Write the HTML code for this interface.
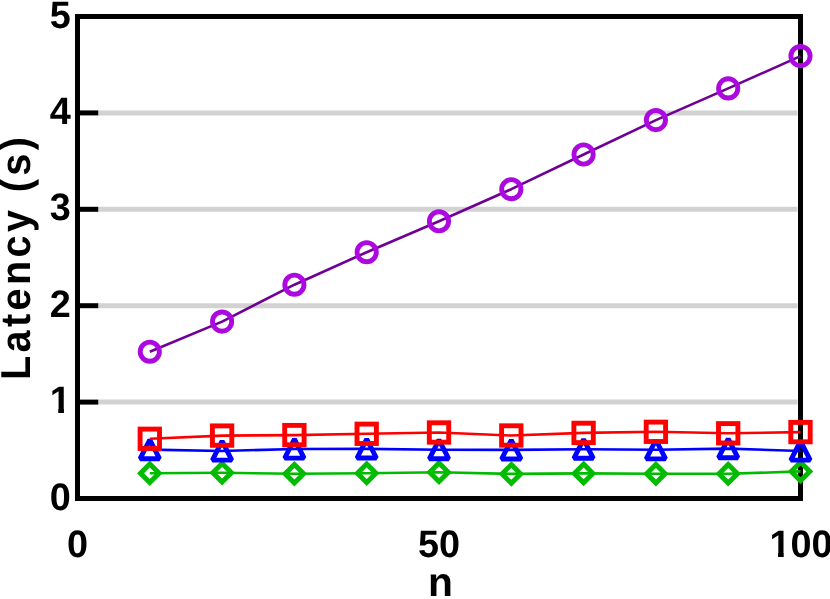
<!DOCTYPE html>
<html><head><meta charset="utf-8"><title>Latency chart</title>
<style>
html,body{margin:0;padding:0;background:#fff;}
body{width:830px;height:599px;overflow:hidden;}
svg{display:block;will-change:transform;}
text{font-family:"Liberation Sans",sans-serif;font-weight:bold;fill:#000;text-rendering:geometricPrecision;}
</style></head><body>
<svg width="830" height="599" viewBox="0 0 830 599">
<rect x="0" y="0" width="830" height="599" fill="#ffffff"/>
<line x1="98" y1="402.10" x2="797.5" y2="402.10" stroke="#d2d2d2" stroke-width="5"/>
<line x1="98" y1="305.70" x2="797.5" y2="305.70" stroke="#d2d2d2" stroke-width="5"/>
<line x1="98" y1="209.30" x2="797.5" y2="209.30" stroke="#d2d2d2" stroke-width="5"/>
<line x1="98" y1="112.90" x2="797.5" y2="112.90" stroke="#d2d2d2" stroke-width="5"/>
<rect x="77.5" y="16.5" width="723.0" height="482.0" fill="none" stroke="#000" stroke-width="5" stroke-linejoin="miter"/>
<line x1="77.5" y1="402.10" x2="98.2" y2="402.10" stroke="#000" stroke-width="5"/>
<line x1="77.5" y1="305.70" x2="98.2" y2="305.70" stroke="#000" stroke-width="5"/>
<line x1="77.5" y1="209.30" x2="98.2" y2="209.30" stroke="#000" stroke-width="5"/>
<line x1="77.5" y1="112.90" x2="98.2" y2="112.90" stroke="#000" stroke-width="5"/>
<polyline points="149.80,351.70 222.10,321.60 294.40,284.70 366.70,252.20 439.00,221.30 511.30,189.20 583.60,154.50 655.90,120.10 728.20,88.40 800.50,56.10" fill="none" stroke="#6e0096" stroke-width="2.6" stroke-linejoin="round"/>
<circle cx="149.80" cy="351.70" r="9.6" fill="none" stroke="#ac08e0" stroke-width="4.9"/>
<circle cx="222.10" cy="321.60" r="9.6" fill="none" stroke="#ac08e0" stroke-width="4.9"/>
<circle cx="294.40" cy="284.70" r="9.6" fill="none" stroke="#ac08e0" stroke-width="4.9"/>
<circle cx="366.70" cy="252.20" r="9.6" fill="none" stroke="#ac08e0" stroke-width="4.9"/>
<circle cx="439.00" cy="221.30" r="9.6" fill="none" stroke="#ac08e0" stroke-width="4.9"/>
<circle cx="511.30" cy="189.20" r="9.6" fill="none" stroke="#ac08e0" stroke-width="4.9"/>
<circle cx="583.60" cy="154.50" r="9.6" fill="none" stroke="#ac08e0" stroke-width="4.9"/>
<circle cx="655.90" cy="120.10" r="9.6" fill="none" stroke="#ac08e0" stroke-width="4.9"/>
<circle cx="728.20" cy="88.40" r="9.6" fill="none" stroke="#ac08e0" stroke-width="4.9"/>
<circle cx="800.50" cy="56.10" r="9.6" fill="none" stroke="#ac08e0" stroke-width="4.9"/>
<polyline points="149.80,473.30 222.10,472.80 294.40,473.80 366.70,473.20 439.00,472.20 511.30,473.90 583.60,473.40 655.90,473.80 728.20,473.80 800.50,471.40" fill="none" stroke="#00bb00" stroke-width="2.6" stroke-linejoin="round"/>
<path d="M149.80 464.00 L159.10 473.30 L149.80 482.60 L140.50 473.30 Z" fill="none" stroke="#00bb00" stroke-width="4.9" stroke-linejoin="miter"/>
<path d="M222.10 463.50 L231.40 472.80 L222.10 482.10 L212.80 472.80 Z" fill="none" stroke="#00bb00" stroke-width="4.9" stroke-linejoin="miter"/>
<path d="M294.40 464.50 L303.70 473.80 L294.40 483.10 L285.10 473.80 Z" fill="none" stroke="#00bb00" stroke-width="4.9" stroke-linejoin="miter"/>
<path d="M366.70 463.90 L376.00 473.20 L366.70 482.50 L357.40 473.20 Z" fill="none" stroke="#00bb00" stroke-width="4.9" stroke-linejoin="miter"/>
<path d="M439.00 462.90 L448.30 472.20 L439.00 481.50 L429.70 472.20 Z" fill="none" stroke="#00bb00" stroke-width="4.9" stroke-linejoin="miter"/>
<path d="M511.30 464.60 L520.60 473.90 L511.30 483.20 L502.00 473.90 Z" fill="none" stroke="#00bb00" stroke-width="4.9" stroke-linejoin="miter"/>
<path d="M583.60 464.10 L592.90 473.40 L583.60 482.70 L574.30 473.40 Z" fill="none" stroke="#00bb00" stroke-width="4.9" stroke-linejoin="miter"/>
<path d="M655.90 464.50 L665.20 473.80 L655.90 483.10 L646.60 473.80 Z" fill="none" stroke="#00bb00" stroke-width="4.9" stroke-linejoin="miter"/>
<path d="M728.20 464.50 L737.50 473.80 L728.20 483.10 L718.90 473.80 Z" fill="none" stroke="#00bb00" stroke-width="4.9" stroke-linejoin="miter"/>
<path d="M800.50 462.10 L809.80 471.40 L800.50 480.70 L791.20 471.40 Z" fill="none" stroke="#00bb00" stroke-width="4.9" stroke-linejoin="miter"/>
<polyline points="149.80,449.60 222.10,451.00 294.40,449.00 366.70,448.90 439.00,449.70 511.30,449.90 583.60,449.20 655.90,449.80 728.20,448.60 800.50,451.00" fill="none" stroke="#0000ff" stroke-width="2.6" stroke-linejoin="round"/>
<path d="M149.80 439.80 L159.50 458.70 L140.10 458.70 Z" fill="none" stroke="#0000ff" stroke-width="4.9" stroke-linejoin="bevel"/>
<path d="M222.10 441.20 L231.80 460.10 L212.40 460.10 Z" fill="none" stroke="#0000ff" stroke-width="4.9" stroke-linejoin="bevel"/>
<path d="M294.40 439.20 L304.10 458.10 L284.70 458.10 Z" fill="none" stroke="#0000ff" stroke-width="4.9" stroke-linejoin="bevel"/>
<path d="M366.70 439.10 L376.40 458.00 L357.00 458.00 Z" fill="none" stroke="#0000ff" stroke-width="4.9" stroke-linejoin="bevel"/>
<path d="M439.00 439.90 L448.70 458.80 L429.30 458.80 Z" fill="none" stroke="#0000ff" stroke-width="4.9" stroke-linejoin="bevel"/>
<path d="M511.30 440.10 L521.00 459.00 L501.60 459.00 Z" fill="none" stroke="#0000ff" stroke-width="4.9" stroke-linejoin="bevel"/>
<path d="M583.60 439.40 L593.30 458.30 L573.90 458.30 Z" fill="none" stroke="#0000ff" stroke-width="4.9" stroke-linejoin="bevel"/>
<path d="M655.90 440.00 L665.60 458.90 L646.20 458.90 Z" fill="none" stroke="#0000ff" stroke-width="4.9" stroke-linejoin="bevel"/>
<path d="M728.20 438.80 L737.90 457.70 L718.50 457.70 Z" fill="none" stroke="#0000ff" stroke-width="4.9" stroke-linejoin="bevel"/>
<path d="M800.50 441.20 L810.20 460.10 L790.80 460.10 Z" fill="none" stroke="#0000ff" stroke-width="4.9" stroke-linejoin="bevel"/>
<polyline points="149.80,438.80 222.10,435.60 294.40,435.10 366.70,433.80 439.00,432.50 511.30,435.50 583.60,432.90 655.90,431.80 728.20,433.30 800.50,432.10" fill="none" stroke="#ff0000" stroke-width="2.6" stroke-linejoin="round"/>
<rect x="140.10" y="429.10" width="19.4" height="19.4" fill="none" stroke="#ff0000" stroke-width="4.9"/>
<rect x="212.40" y="425.90" width="19.4" height="19.4" fill="none" stroke="#ff0000" stroke-width="4.9"/>
<rect x="284.70" y="425.40" width="19.4" height="19.4" fill="none" stroke="#ff0000" stroke-width="4.9"/>
<rect x="357.00" y="424.10" width="19.4" height="19.4" fill="none" stroke="#ff0000" stroke-width="4.9"/>
<rect x="429.30" y="422.80" width="19.4" height="19.4" fill="none" stroke="#ff0000" stroke-width="4.9"/>
<rect x="501.60" y="425.80" width="19.4" height="19.4" fill="none" stroke="#ff0000" stroke-width="4.9"/>
<rect x="573.90" y="423.20" width="19.4" height="19.4" fill="none" stroke="#ff0000" stroke-width="4.9"/>
<rect x="646.20" y="422.10" width="19.4" height="19.4" fill="none" stroke="#ff0000" stroke-width="4.9"/>
<rect x="718.50" y="423.60" width="19.4" height="19.4" fill="none" stroke="#ff0000" stroke-width="4.9"/>
<rect x="790.80" y="422.40" width="19.4" height="19.4" fill="none" stroke="#ff0000" stroke-width="4.9"/>
<g transform="translate(49.67,509.50) scale(0.99,1)"><text x="0" y="0" font-size="38.2">0</text></g>
<g transform="translate(49.67,413.10) scale(0.99,1)"><text x="0" y="0" font-size="38.2">1</text><rect x="0.75" y="-4.50" width="7.92" height="5.50" fill="#fff"/><rect x="14.41" y="-4.50" width="6.48" height="5.50" fill="#fff"/></g>
<g transform="translate(49.67,316.70) scale(0.99,1)"><text x="0" y="0" font-size="38.2">2</text></g>
<g transform="translate(49.67,220.30) scale(0.99,1)"><text x="0" y="0" font-size="38.2">3</text></g>
<g transform="translate(49.67,123.90) scale(0.99,1)"><text x="0" y="0" font-size="38.2">4</text></g>
<g transform="translate(49.67,27.50) scale(0.99,1)"><text x="0" y="0" font-size="38.2">5</text></g>
<g transform="translate(66.98,557.30) scale(0.99,1)"><text x="0" y="0" font-size="38.2">0</text></g>
<g transform="translate(417.97,557.30) scale(0.99,1)"><text x="0" y="0" font-size="38.2">50</text></g>
<g transform="translate(769.45,557.30) scale(0.99,1)"><text x="0" y="0" font-size="38.2">100</text><rect x="0.75" y="-4.50" width="7.92" height="5.50" fill="#fff"/><rect x="14.41" y="-4.50" width="6.48" height="5.50" fill="#fff"/></g>
<text x="440.5" y="596.1" font-size="40.8" text-anchor="middle">n</text>
<text transform="translate(29.7,256.8) rotate(-90) scale(0.975,1.03)" font-size="40.6" text-anchor="middle" letter-spacing="3.49">Latency (s)</text>
</svg></body></html>
